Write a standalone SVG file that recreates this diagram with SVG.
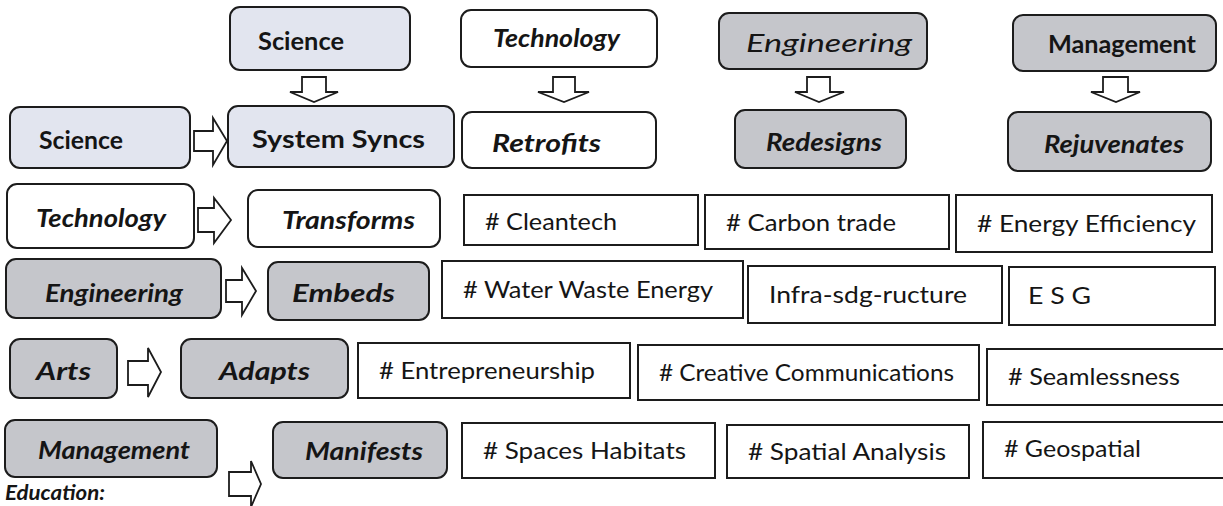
<svg xmlns="http://www.w3.org/2000/svg" width="1223" height="506" viewBox="0 0 1223 506">
<style>
.bx{stroke:#1c1c1c;stroke-width:2}
.lt{fill:#e2e5ef}
.gr{fill:#c5c6cb}
.wh{fill:#ffffff}
.ar{fill:#ffffff;stroke:#1c1c1c;stroke-width:1.8;stroke-linejoin:miter}
text{font-family:Lato,"DejaVu Sans","Liberation Sans",sans-serif;fill:#151515}
.lb{font-size:25px}
.b{font-weight:bold}
.i{font-style:italic}
.m{font-weight:bold}
.r{font-weight:normal}
.tg{font-size:23px}
</style>
<rect width="1223" height="506" fill="#ffffff"/>

<g id="top-science"><rect class="bx lt" x="230" y="7" width="180" height="63" rx="10"/><text class="lb b" x="258" y="50" textLength="86" lengthAdjust="spacingAndGlyphs">Science</text></g>
<g id="top-technology"><rect class="bx wh" x="461" y="10" width="196" height="57" rx="10"/><text class="lb m i" x="493" y="47" textLength="127" lengthAdjust="spacingAndGlyphs">Technology</text></g>
<g id="top-engineering"><rect class="bx gr" x="719" y="13" width="208" height="56" rx="10"/><text class="lb r i" x="746" y="52" textLength="166" lengthAdjust="spacingAndGlyphs">Engineering</text></g>
<g id="top-management"><rect class="bx gr" x="1013" y="15" width="203" height="56" rx="10"/><text class="lb m" x="1048" y="53" textLength="148" lengthAdjust="spacingAndGlyphs">Management</text></g>

<g id="science"><rect class="bx lt" x="10" y="107" width="180" height="61" rx="10"/><text class="lb b" x="39" y="149" textLength="84" lengthAdjust="spacingAndGlyphs">Science</text></g>
<g id="system-syncs"><rect class="bx lt" x="228" y="106" width="226" height="61" rx="10"/><text class="lb b" x="252" y="148" textLength="173" lengthAdjust="spacingAndGlyphs">System Syncs</text></g>
<g id="retrofits"><rect class="bx wh" x="462" y="112" width="194" height="56" rx="10"/><text class="lb b i" x="492" y="152" textLength="109" lengthAdjust="spacingAndGlyphs">Retrofits</text></g>
<g id="redesigns"><rect class="bx gr" x="735" y="110" width="171" height="58" rx="10"/><text class="lb m i" x="766" y="151" textLength="116" lengthAdjust="spacingAndGlyphs">Redesigns</text></g>
<g id="rejuvenates"><rect class="bx gr" x="1008" y="112" width="203" height="59" rx="10"/><text class="lb m i" x="1044" y="153" textLength="140" lengthAdjust="spacingAndGlyphs">Rejuvenates</text></g>

<g id="technology"><rect class="bx wh" x="7" y="184" width="187" height="64" rx="10"/><text class="lb b i" x="36" y="227" textLength="130" lengthAdjust="spacingAndGlyphs">Technology</text></g>
<g id="transforms"><rect class="bx wh" x="248" y="190" width="192" height="57" rx="10"/><text class="lb b i" x="282" y="229" textLength="133" lengthAdjust="spacingAndGlyphs">Transforms</text></g>
<g id="cleantech"><rect class="bx wh" x="464" y="195" width="234" height="50"/><text class="tg" x="485" y="230" textLength="132" lengthAdjust="spacingAndGlyphs"># Cleantech</text></g>
<g id="carbon-trade"><rect class="bx wh" x="705" y="195" width="244" height="54"/><text class="tg" x="726" y="231" textLength="170" lengthAdjust="spacingAndGlyphs"># Carbon trade</text></g>
<g id="energy-efficiency"><rect class="bx wh" x="956" y="195" width="256" height="57"/><text class="tg" x="977" y="232" textLength="219" lengthAdjust="spacingAndGlyphs"># Energy Efficiency</text></g>

<g id="engineering"><rect class="bx gr" x="6" y="259" width="215" height="59" rx="10"/><text class="lb m i" x="45" y="302" textLength="138" lengthAdjust="spacingAndGlyphs">Engineering</text></g>
<g id="embeds"><rect class="bx gr" x="268" y="262" width="161" height="58" rx="10"/><text class="lb m i" x="292" y="302" textLength="103" lengthAdjust="spacingAndGlyphs">Embeds</text></g>
<g id="water-waste-energy"><rect class="bx wh" x="442" y="261" width="301" height="57"/><text class="tg" x="463" y="298" textLength="250" lengthAdjust="spacingAndGlyphs"># Water Waste Energy</text></g>
<g id="infra-sdg-ructure"><rect class="bx wh" x="748" y="266" width="254" height="57"/><text class="tg" x="769" y="303" textLength="198" lengthAdjust="spacingAndGlyphs">Infra-sdg-ructure</text></g>
<g id="esg"><rect class="bx wh" x="1009" y="267" width="206" height="58"/><text class="tg" x="1028" y="304" textLength="63" lengthAdjust="spacingAndGlyphs">E S G</text></g>

<g id="arts"><rect class="bx gr" x="10" y="339" width="107" height="59" rx="10"/><text class="lb b i" x="36" y="380" textLength="55" lengthAdjust="spacingAndGlyphs">Arts</text></g>
<g id="adapts"><rect class="bx gr" x="181" y="339" width="167" height="59" rx="10"/><text class="lb b i" x="219" y="380" textLength="91" lengthAdjust="spacingAndGlyphs">Adapts</text></g>
<g id="entrepreneurship"><rect class="bx wh" x="358" y="343" width="272" height="55"/><text class="tg" x="379" y="379" textLength="216" lengthAdjust="spacingAndGlyphs"># Entrepreneurship</text></g>
<g id="creative-communications"><rect class="bx wh" x="638" y="345" width="341" height="55"/><text class="tg" x="659" y="381" textLength="295" lengthAdjust="spacingAndGlyphs"># Creative Communications</text></g>
<g id="seamlessness"><rect class="bx wh" x="987" y="349" width="240" height="56"/><text class="tg" x="1008" y="385" textLength="172" lengthAdjust="spacingAndGlyphs"># Seamlessness</text></g>

<g id="management"><rect class="bx gr" x="5" y="420" width="212" height="57" rx="10"/><text class="lb b i" x="38" y="459" textLength="152" lengthAdjust="spacingAndGlyphs">Management</text></g>
<g id="manifests"><rect class="bx gr" x="273" y="422" width="174" height="56" rx="10"/><text class="lb b i" x="305" y="460" textLength="118" lengthAdjust="spacingAndGlyphs">Manifests</text></g>
<g id="spaces-habitats"><rect class="bx wh" x="462" y="423" width="253" height="55"/><text class="tg" x="483" y="459" textLength="203" lengthAdjust="spacingAndGlyphs"># Spaces Habitats</text></g>
<g id="spatial-analysis"><rect class="bx wh" x="727" y="425" width="242" height="53"/><text class="tg" x="748" y="460" textLength="198" lengthAdjust="spacingAndGlyphs"># Spatial Analysis</text></g>
<g id="geospatial"><rect class="bx wh" x="983" y="422" width="245" height="56"/><text class="tg" x="1004" y="457" textLength="137" lengthAdjust="spacingAndGlyphs"># Geospatial</text></g>

<text class="b i" style="font-size:20px" x="5" y="500" textLength="100" lengthAdjust="spacingAndGlyphs">Education:</text>

<g id="connectors">
<path class="ar" d="M302,77 H326 V92 H338 L314,102 L290,92 H302 Z"/>
<path class="ar" d="M553,77 H575 V92 H589 L564,102 L538,92 H553 Z"/>
<path class="ar" d="M807,77 H830 V92 H844 L819,102 L795,92 H807 Z"/>
<path class="ar" d="M1103,77 H1128 V92 H1140 L1116,102 L1091,92 H1103 Z"/>
<path class="ar" d="M194,131 H213 V118 L227,141 L213,165 V151 H194 Z"/>
<path class="ar" d="M198,208 H214 V198 L231,220 L214,243 V232 H198 Z"/>
<path class="ar" d="M226,280 H242 V268 L256,291 L242,315 V302 H226 Z"/>
<path class="ar" d="M128,361 H148 V348 L161,372 L148,397 V385 H128 Z"/>
<path class="ar" d="M229,472 H251 V461 L261,484 L251,507 V496 H229 Z"/>
</g>
</svg>
